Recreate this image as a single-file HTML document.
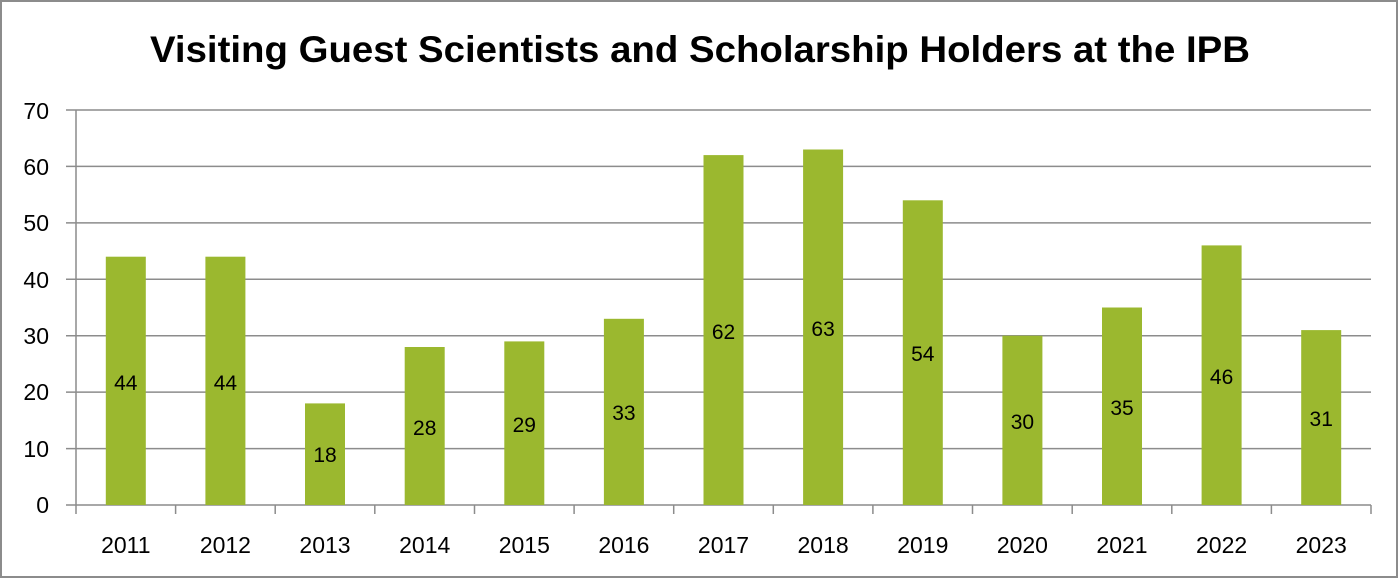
<!DOCTYPE html>
<html><head><style>body{margin:0;background:#fff}svg{display:block}text{font-family:"Liberation Sans",sans-serif}</style></head><body>
<svg width="1400" height="578" xmlns="http://www.w3.org/2000/svg">
<rect x="1" y="1" width="1396" height="576" fill="#fff" stroke="#8c8c8c" stroke-width="2"/>
<text x="700" y="62" text-anchor="middle" style="font-size:37px;font-weight:bold" textLength="1100" lengthAdjust="spacingAndGlyphs">Visiting Guest Scientists and Scholarship Holders at the IPB</text>
<g stroke="#8c8c8c" stroke-width="1.5">
<line x1="66" x2="1371" y1="110" y2="110"/><line x1="66" x2="1371" y1="166.4" y2="166.4"/>
<line x1="66" x2="1371" y1="222.9" y2="222.9"/><line x1="66" x2="1371" y1="279.3" y2="279.3"/>
<line x1="66" x2="1371" y1="335.7" y2="335.7"/><line x1="66" x2="1371" y1="392.1" y2="392.1"/>
<line x1="66" x2="1371" y1="448.6" y2="448.6"/><line x1="66" x2="1371" y1="505" y2="505"/>
<line x1="76" x2="76" y1="110" y2="505"/>
<line x1="76" x2="76" y1="505" y2="514"/><line x1="175.6" x2="175.6" y1="505" y2="514"/>
<line x1="275.2" x2="275.2" y1="505" y2="514"/><line x1="374.8" x2="374.8" y1="505" y2="514"/>
<line x1="474.5" x2="474.5" y1="505" y2="514"/><line x1="574.1" x2="574.1" y1="505" y2="514"/>
<line x1="673.7" x2="673.7" y1="505" y2="514"/><line x1="773.3" x2="773.3" y1="505" y2="514"/>
<line x1="872.9" x2="872.9" y1="505" y2="514"/><line x1="972.5" x2="972.5" y1="505" y2="514"/>
<line x1="1072.2" x2="1072.2" y1="505" y2="514"/><line x1="1171.8" x2="1171.8" y1="505" y2="514"/>
<line x1="1271.4" x2="1271.4" y1="505" y2="514"/><line x1="1371" x2="1371" y1="505" y2="514"/>
</g>
<g style="font-size:23px" text-anchor="end"><text x="49" y="119">70</text><text x="49" y="175">60</text><text x="49" y="231">50</text><text x="49" y="288">40</text><text x="49" y="344">30</text><text x="49" y="400">20</text><text x="49" y="457">10</text><text x="49" y="513">0</text></g>
<g fill="#9bb82f">
<rect x="105.8" y="256.7" width="40" height="248.3"/>
<rect x="205.4" y="256.7" width="40" height="248.3"/>
<rect x="305.0" y="403.4" width="40" height="101.6"/>
<rect x="404.7" y="347.0" width="40" height="158.0"/>
<rect x="504.3" y="341.4" width="40" height="163.6"/>
<rect x="603.9" y="318.8" width="40" height="186.2"/>
<rect x="703.5" y="155.1" width="40" height="349.9"/>
<rect x="803.1" y="149.5" width="40" height="355.5"/>
<rect x="902.8" y="200.3" width="40" height="304.7"/>
<rect x="1002.4" y="335.7" width="40" height="169.3"/>
<rect x="1102.0" y="307.5" width="40" height="197.5"/>
<rect x="1201.6" y="245.4" width="40" height="259.6"/>
<rect x="1301.2" y="330.1" width="40" height="174.9"/>
</g>
<g style="font-size:21px" text-anchor="middle">
<text x="125.8" y="390">44</text><text x="225.4" y="390">44</text><text x="325.0" y="462">18</text>
<text x="424.7" y="435">28</text><text x="524.3" y="432">29</text><text x="623.9" y="420">33</text>
<text x="723.5" y="339">62</text><text x="823.1" y="336">63</text><text x="922.8" y="361">54</text>
<text x="1022.4" y="429">30</text><text x="1122.0" y="415">35</text><text x="1221.6" y="384">46</text>
<text x="1321.2" y="426">31</text>
</g>
<g style="font-size:23px" text-anchor="middle">
<text x="125.8" y="553">2011</text><text x="225.4" y="553">2012</text><text x="325.0" y="553">2013</text>
<text x="424.7" y="553">2014</text><text x="524.3" y="553">2015</text><text x="623.9" y="553">2016</text>
<text x="723.5" y="553">2017</text><text x="823.1" y="553">2018</text><text x="922.8" y="553">2019</text>
<text x="1022.4" y="553">2020</text><text x="1122.0" y="553">2021</text><text x="1221.6" y="553">2022</text>
<text x="1321.2" y="553">2023</text>
</g>
</svg>
</body></html>
